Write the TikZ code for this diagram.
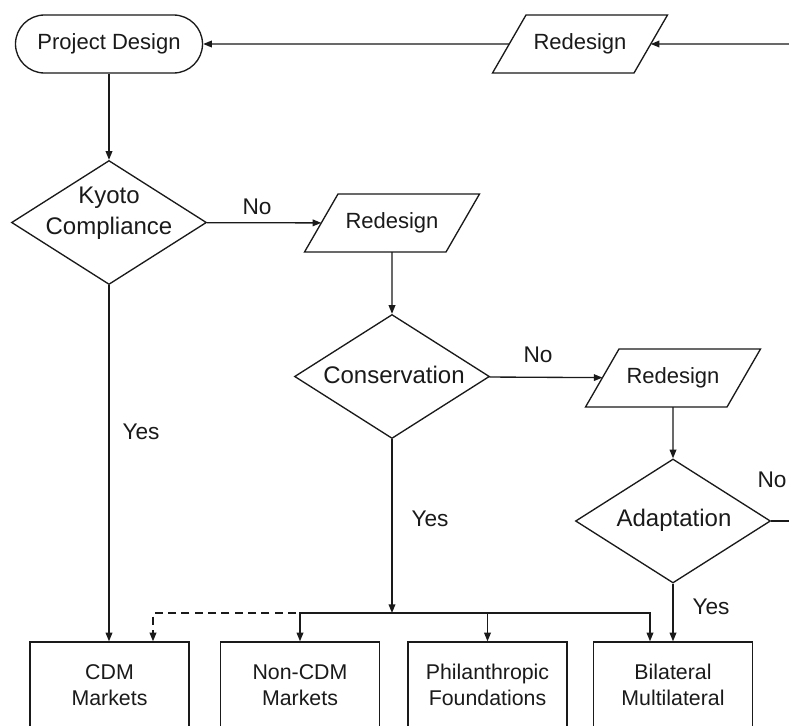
\documentclass[tikz,border=0pt]{standalone}
\usepackage{fontspec}
\setmainfont{Liberation Sans}
\usetikzlibrary{shapes.geometric,arrows.meta,calc}
\definecolor{ink}{HTML}{1A1A1A}
\begin{document}
\begin{tikzpicture}[x=0.75pt,y=-0.75pt,
  ln/.style={draw=ink,line width=1pt},
  arr/.style={ln,-{Triangle[length=6.5pt,width=5pt]}},
  dsh/.style={dash pattern=on 6pt off 4pt,line width=1.2pt},
  term/.style={draw=ink,line width=1pt,rectangle,rounded corners=21.75pt,
    minimum width=140.25pt,minimum height=43.5pt,inner sep=0pt,text=ink,
    font=\fontsize{16.5}{20}\selectfont},
  io/.style={draw=ink,line width=1pt,trapezium,trapezium left angle=60,
    trapezium right angle=120,minimum width=0pt,minimum height=0pt,
    text width=70pt,align=center,text height=12pt,text depth=4pt,
    inner xsep=5.5pt,inner ysep=13.75pt,outer sep=0pt,
    text=ink,font=\fontsize{16.5}{20}\selectfont},
  dec/.style={draw=ink,line width=1pt,diamond,aspect=1.57,
    minimum width=146.25pt,minimum height=93pt,inner sep=0pt},
  dtxt/.style={font=\fontsize{18}{23}\selectfont,align=center,inner sep=0pt,text=ink},
  fund/.style={draw=ink,line width=1pt,rectangle,minimum width=119.25pt,
    minimum height=64.5pt,align=center,inner sep=0pt,text=ink,
    font=\fontsize{16}{19}\selectfont},
  lbl/.style={font=\fontsize{17}{20}\selectfont,inner sep=0pt,text=ink}]
\useasboundingbox (0,0) rectangle (789,725);
\clip (0,0) rectangle (789,725);
\fill[white] (0,0) rectangle (789,725);

% nodes
\node[term] (pd) at (109,44) {Project Design};
\node[io] (r1) at (580,44) {Redesign};
\node[dec] (ky) at (109,222.5) {};
\node[dtxt] (kyt) at (109,213) {Kyoto\\Compliance};
\node[io] (r2) at (392,223) {Redesign};
\node[dec] (co) at (392,376.5) {};
\node[dtxt] (cot) at (394,375) {Conservation};
\node[io] (r3) at (673,378) {Redesign};
\node[dec] (ad) at (673,521) {};
\node[dtxt] (adt) at (674,520) {Adaptation};

\node[fund] (cdm) at (109.5,685) {CDM\\Markets};
\node[fund] (ncdm) at (300,685) {Non-CDM\\Markets};
\node[fund] (phil) at (487.5,685) {Philanthropic\\Foundations};
\node[fund] (bil) at (673,685) {Bilateral\\Multilateral};

\coordinate (inR) at (789,44);
\coordinate (outR) at (789,521);
\coordinate (bus) at (392,613);
\coordinate (dstart) at (296,613);

% connectors
\draw[arr] (inR) -- (r1);
\draw[arr] (r1) -- (pd);
\draw[arr] (pd) -- (ky);
\draw[arr] (ky) -- (r2);
\draw[arr] (r2) -- (co);
\draw[arr] (co) -- (r3);
\draw[arr] (r3) -- (ad);
\draw[ln] (ad) -- (outR);
\draw[arr] (ky) -- (ky |- cdm.north);
\draw[arr] (co) -- (bus);
\draw[arr] (bus) -| (ncdm.north);
\draw[arr] (bus) -| (phil.north);
\draw[arr] (bus) -| ($(bil.north)+(-23,0)$);
\draw[arr] (ad) -- (ad |- bil.north);
\draw[arr,dsh] (dstart) -| ($(cdm.north)+(43.5,0)$);

% labels
\node[lbl] (no1) at (257,207) {No};
\node[lbl] (no2) at (538,355) {No};
\node[lbl] (no3) at (772,480) {No};
\node[lbl] (yes1) at (141,432) {Yes};
\node[lbl] (yes2) at (430,519) {Yes};
\node[lbl] (yes3) at (711,607) {Yes};
\end{tikzpicture}
\end{document}
